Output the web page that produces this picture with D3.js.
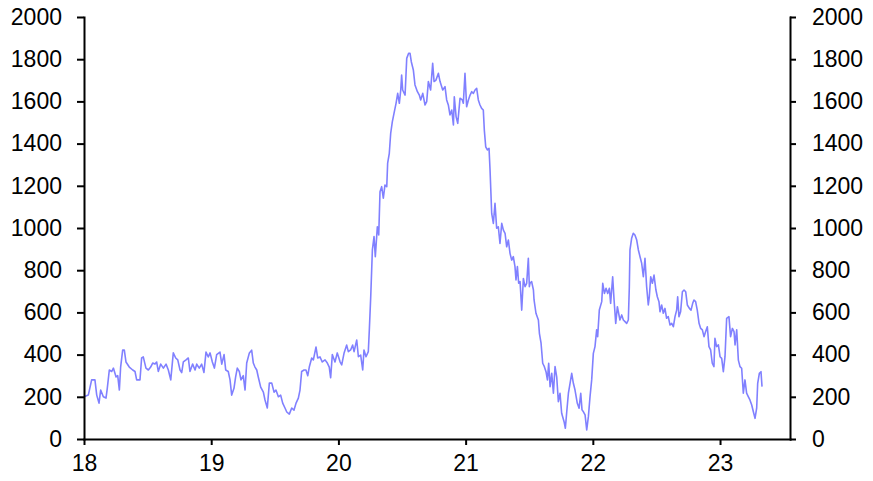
<!DOCTYPE html>
<html><head><meta charset="utf-8">
<script src="https://cdn.jsdelivr.net/npm/d3@7"></script>
<style>
html,body{margin:0;padding:0;background:#fff;}
svg{display:block;}
.axis text{font-family:Arial,"Liberation Sans",sans-serif;font-size:23px;fill:#000;}
.axis path,.axis line{stroke:#000;stroke-width:2;}
</style></head>
<body>
<svg id="chart" width="873" height="481"></svg>
<script>
const dates = [
18.000,18.034,18.060,18.086,18.100,18.118,18.131,18.152,18.173,18.183,18.199,18.218,18.231,18.252,18.265,18.278,18.288,18.304,18.317,18.330,
18.356,18.383,18.401,18.414,18.440,18.453,18.466,18.487,18.506,18.524,18.540,18.558,18.571,18.584,18.603,18.624,18.645,18.663,18.682,18.702,
18.721,18.737,18.755,18.768,18.781,18.802,18.820,18.833,18.854,18.873,18.886,18.906,18.925,18.943,18.959,18.977,18.991,19.009,19.025,19.043,
19.069,19.083,19.101,19.114,19.134,19.148,19.161,19.179,19.192,19.205,19.221,19.234,19.252,19.266,19.279,19.300,19.318,19.331,19.344,19.358,
19.370,19.389,19.410,19.423,19.441,19.457,19.476,19.494,19.509,19.528,19.546,19.562,19.580,19.594,19.614,19.633,19.651,19.667,19.685,19.698,
19.711,19.730,19.745,19.759,19.771,19.790,19.803,19.824,19.837,19.855,19.873,19.895,19.913,19.928,19.939,19.952,19.973,19.991,
20.013,20.026,20.044,20.065,20.078,20.096,20.112,20.123,20.144,20.157,20.175,20.191,20.201,20.217,20.235,20.243,20.254,20.267,20.280,20.290,
20.306,20.317,20.327,20.340,20.353,20.366,20.380,20.387,20.400,20.411,20.424,20.437,20.453,20.466,20.479,20.490,20.497,20.505,20.524,20.537,
20.552,20.563,20.573,20.589,20.602,20.621,20.636,20.647,20.663,20.681,20.694,20.707,20.725,20.741,20.752,20.767,20.786,20.799,20.820,20.838,
20.851,20.864,20.877,20.891,20.904,20.911,20.925,20.938,20.956,20.974,20.982,20.995,21.008,21.022,21.035,21.048,21.061,21.074,21.087,21.100,
21.113,21.126,21.139,21.147,21.158,21.171,21.184,21.192,21.205,21.218,21.231,21.244,21.257,21.270,21.284,21.297,21.310,21.323,21.336,21.349,
21.362,21.375,21.388,21.396,21.407,21.417,21.428,21.441,21.454,21.467,21.480,21.493,21.501,
21.506,21.519,21.533,21.538,21.553,21.572,21.580,21.593,21.606,21.619,21.632,21.643,21.653,21.664,21.677,21.690,21.703,21.716,21.729,21.742,
21.755,21.774,21.784,21.795,21.808,21.821,21.834,21.847,21.860,21.878,21.892,21.905,21.915,21.926,21.939,21.952,21.965,21.978,21.991,22.004,
22.017,22.030,22.038,22.051,22.070,22.078,22.091,22.104,22.117,22.130,22.140,22.156,22.167,22.180,22.193,
22.213,22.227,22.240,22.253,22.266,22.279,22.287,22.292,22.305,22.318,22.331,22.345,22.358,22.371,22.384,22.397,22.410,22.423,22.436,22.444,
22.455,22.468,22.481,22.496,22.507,22.520,22.528,22.541,22.554,22.567,22.580,22.593,22.607,22.620,22.633,22.646,22.659,22.667,22.677,22.690,
22.704,22.717,22.730,22.743,22.759,22.772,22.785,22.795,22.808,22.821,22.835,22.848,22.861,22.874,22.887,22.900,22.913,22.926,22.939,22.952,
22.960,22.973,22.987,23.000,23.013,23.026,23.039,23.052,23.070,23.083,23.097,23.110,23.118,23.131,23.144,23.157,23.170,23.183,23.196,23.209,
23.222,23.235,23.249,23.262,23.275,23.288,23.296,23.309,23.322,23.330
];
const values = [
200,208,280,280,208,170,232,200,194,240,327,320,336,294,300,232,341,421,421,365,
341,327,320,280,280,384,389,336,327,341,360,355,365,320,355,336,355,327,280,408,
384,375,327,315,365,375,384,320,355,327,355,336,355,315,412,389,408,365,336,400,
412,355,400,327,320,280,208,240,294,336,320,280,300,232,360,408,421,360,341,327,
294,246,222,185,147,265,265,222,232,200,208,170,147,128,118,147,137,170,194,232,
320,327,327,300,341,384,375,436,384,389,365,375,360,341,290,400,365,408,
366,351,406,445,414,422,445,414,469,390,398,327,422,390,414,517,674,896,959,864,
1006,967,1172,1196,1141,1204,1196,1307,1354,1449,1504,1543,1591,1638,1591,1654,1725,1654,1630,1804,
1828,1828,1788,1749,1678,1646,1630,1607,1638,1583,1599,1694,1654,1780,1694,1701,1733,1694,1654,1670,
1607,1583,1536,1559,1488,1622,1528,1496,1615,1607,1591,1733,1575,1607,1630,1646,1638,1654,1662,1607,
1583,1567,1559,1464,1385,1370,1378,1275,1069,1022,1117,999,1006,927,1022,990,975,911,943,880,
848,864,817,754,817,738,746,611,761,722,738,856,722,
738,746,706,659,596,564,501,454,359,343,319,280,359,248,311,217,343,295,177,217,
122,82,51,129,217,264,311,264,232,169,146,217,138,129,114,43,106,201,280,406,
438,517,485,611,651,738,690,714,690,714,643,769,659,548,627,
564,588,564,556,548,564,722,896,951,975,967,943,896,864,833,769,856,722,635,674,
769,738,777,706,674,651,603,635,596,619,572,580,540,548,532,580,611,674,580,603,
698,706,698,635,619,611,643,659,651,611,548,524,517,485,509,532,438,422,359,343,
477,438,446,390,382,319,390,572,580,485,524,509,446,517,374,343,335,217,280,217,
201,185,161,129,98,146,264,311,319,248
];
const xTicks = [18,19,20,21,22,23];
const yTicks = [0,200,400,600,800,1000,1200,1400,1600,1800,2000];
const xDomain = [18, 23.55];
const yDomain = [0, 2000];

const data = dates.map((d,i)=>({t:d, v:values[i]}));
const svg = d3.select("#chart");
const L = 84, R = 790, T = 17, B = 439;
const x = d3.scaleLinear().domain(xDomain).range([L,R]);
const y = d3.scaleLinear().domain(yDomain).range([B,T]);

svg.append("path").datum(data)
  .attr("fill","none").attr("stroke","#8080ff").attr("stroke-width",1.6)
  .attr("stroke-linejoin","round")
  .attr("d", d3.line().x(d=>x(d.t)).y(d=>y(d.v)));

svg.append("g").attr("class","axis").attr("transform",`translate(${L},0)`)
  .call(d3.axisLeft(y).tickValues(yTicks).tickSize(7).tickSizeOuter(0).tickPadding(15).tickFormat(d3.format("d")));
svg.append("g").attr("class","axis").attr("transform",`translate(${R},0)`)
  .call(d3.axisRight(y).tickValues(yTicks).tickSize(6).tickSizeOuter(0).tickPadding(16).tickFormat(d3.format("d")));
svg.append("g").attr("class","axis").attr("transform",`translate(0,${B})`)
  .call(d3.axisBottom(x).tickValues(xTicks).tickSize(6).tickSizeOuter(0).tickPadding(10).tickFormat(d3.format("d")));
svg.selectAll(".axis path.domain").attr("stroke-linecap","square");
</script>
</body></html>
